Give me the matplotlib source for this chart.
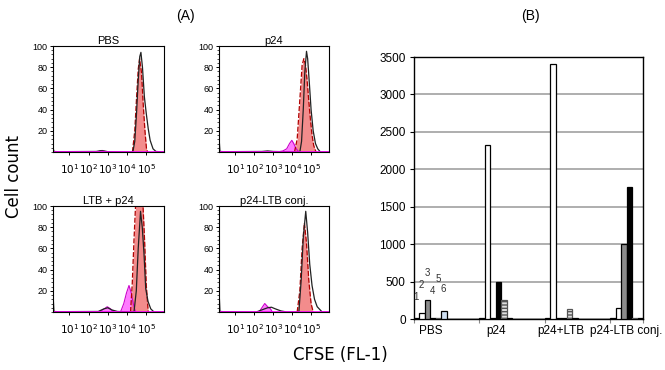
import numpy as np
import matplotlib
matplotlib.use('Agg')
import matplotlib.pyplot as plt
from matplotlib.ticker import FixedLocator, AutoMinorLocator, LogLocator, NullFormatter

plt.rcParams['font.family'] = ['Liberation Sans', 'DejaVu Sans']
plt.rcParams['hatch.linewidth'] = 1.0

# ---- panel A: CFSE histograms (x in log10 decades, y in % of max) ----
titles = ['PBS', 'p24', 'LTB + p24', 'p24-LTB conj.']

black_x = [
    [0.15, 0.2, 0.4, 2.4, 2.6, 2.8, 3.0, 4.3, 4.4, 4.49, 4.58, 4.66, 4.72, 4.8, 4.9, 5.0, 5.1, 5.2, 5.35, 5.5, 5.92],
    [0.15, 0.2, 0.4, 2.4, 2.7, 3.0, 4.39, 4.48, 4.57, 4.65, 4.74, 4.8, 4.9, 4.98, 5.09, 5.21, 5.33, 5.47, 5.92],
    [0.15, 0.2, 0.4, 2.5, 2.8, 3.0, 3.2, 3.5, 4.36, 4.48, 4.58, 4.7, 4.79, 4.88, 4.97, 5.09, 5.23, 5.4, 5.92],
    [0.15, 0.2, 0.4, 2.1, 2.4, 2.7, 2.9, 3.1, 3.4, 3.7, 4.34, 4.46, 4.57, 4.7, 4.8, 4.91, 5.03, 5.16, 5.3, 5.56, 5.92],
]
black_y = [
    [4, 0.5, 0.3, 0.5, 1.2, 1.0, 0.3, 0, 10, 36, 68, 90, 94, 80, 52, 36, 22, 11, 3, 0.5, 0],
    [14, 0.5, 0.3, 0.5, 1.0, 0.5, 0, 10, 40, 75, 95, 88, 62, 40, 20, 8, 3, 0, 0],
    [17, 0.5, 0.3, 0.5, 3, 4, 2, 0.5, 0, 20, 60, 95, 80, 55, 22, 10, 3, 0, 0],
    [21, 0.5, 0.3, 0, 2, 4, 4.5, 3, 1, 0, 0, 30, 70, 95, 75, 45, 25, 12, 5, 0, 0],
]
red_x = [
    [4.28, 4.4, 4.49, 4.58, 4.65, 4.75, 4.84, 4.93, 5.01, 5.07],
    [4.11, 4.25, 4.34, 4.43, 4.51, 4.6, 4.69, 4.77, 4.86, 4.95, 5.03, 5.12, 5.24],
    [4.18, 4.27, 4.36, 4.44, 4.53, 4.62, 4.7, 4.83, 4.91, 5.0, 5.1],
    [4.25, 4.39, 4.51, 4.63, 4.74, 4.86, 4.98, 5.09],
]
red_y = [
    [0, 20, 50, 78, 88, 75, 45, 20, 3, 0],
    [0, 12, 36, 60, 82, 88, 82, 68, 48, 30, 16, 6, 0],
    [0, 27, 68, 100, 125, 130, 125, 100, 68, 25, 0],
    [0, 20, 60, 84, 65, 30, 8, 0],
]
magenta_x = [
    [[2.5, 2.7, 2.9]],
    [[3.2, 3.5, 3.7, 3.85, 3.97, 4.07, 4.2, 4.35]],
    [[3.66, 3.83, 3.97, 4.1, 4.22, 4.32, 4.44], [2.53, 2.74, 2.97, 3.14, 3.31]],
    [[2.25, 2.4, 2.55, 2.7, 2.85, 2.95]],
]
magenta_y = [
    [[0, 1.5, 0]],
    [[0, 1, 3, 8, 11, 8, 3, 0]],
    [[0, 8, 18, 25, 18, 8, 0], [0, 2, 5, 3, 0]],
    [[0, 4, 8, 5, 3, 0]],
]

# ---- panel B: bar chart ----
groups = ['PBS', 'p24', 'p24+LTB', 'p24-LTB conj.']
bar_values = [
    [20, 75, 250, 15, 20, 110],
    [20, 2320, 20, 495, 260, 20],
    [20, 3400, 20, 15, 135, 20],
    [20, 147, 1000, 1760, 20, 20],
]
bar_numbers = ['1', '2', '3', '4', '5', '6']
number_heights = [294, 455, 615, 374, 535, 401]

W, H = 665, 370
fig = plt.figure(figsize=(W / 100, H / 100), dpi=100)

def box(x0, y0, x1, y1):
    return [x0 / W, 1 - y1 / H, (x1 - x0) / W, (y1 - y0) / H]

hist_boxes = [box(53, 46, 164, 152), box(219, 46, 329, 152),
              box(53, 206, 164, 312), box(219, 206, 329, 312)]

for i, rect in enumerate(hist_boxes):
    ax = fig.add_axes(rect)
    ax.set_xscale('log')
    bx = 10 ** np.array(black_x[i])
    rx = 10 ** np.array(red_x[i])
    for mx, my in zip(magenta_x[i], magenta_y[i]):
        mx = 10 ** np.array(mx)
        ax.fill_between(mx, my, color='#ff33ff', alpha=0.65, lw=0)
        ax.plot(mx, my, color='#cc00cc', lw=0.8)
    ax.fill_between(rx, red_y[i], color='#f07070', alpha=0.8, lw=0)
    ax.plot(rx, red_y[i], color='#b00000', lw=0.9, ls=(0, (4, 1.5)))
    ax.plot(bx, black_y[i], color='#222222', lw=0.9)
    ax.axhline(0.3, color='#ff00ff', lw=1.2)
    ax.set_xlim(10 ** 0.15, 10 ** 5.92)
    ax.set_ylim(0, 100)
    ax.set_title(titles[i], fontsize=8, pad=1.5)
    ax.set_yticks([20, 40, 60, 80, 100])
    ax.yaxis.set_minor_locator(AutoMinorLocator(5))
    ax.set_xticks([10, 100, 1000, 1e4, 1e5])
    ax.set_xticklabels(['$10^1$', '$10^2$', '$10^3$', '$10^4$', '$10^5$'])
    ax.xaxis.set_minor_locator(LogLocator(base=10, subs=np.arange(2, 10)))
    ax.xaxis.set_minor_formatter(NullFormatter())
    ax.tick_params(axis='both', labelsize=6.5, length=2.5, width=0.7, pad=1.5)
    ax.tick_params(axis='x', labelsize=7.5, pad=5)
    ax.tick_params(which='minor', length=1.5, width=0.5)
    for s in ax.spines.values():
        s.set_linewidth(0.8)

# bar chart
axb = fig.add_axes(box(414, 57, 643, 319))
period = len(bar_values[0]) * 2
bar_styles = [
    dict(color='white', edgecolor='black'),
    dict(color='white', edgecolor='black'),
    dict(color='#8c8c8c', edgecolor='black'),
    dict(color='black', edgecolor='black'),
    dict(color='#e0e0e0', edgecolor='#555555', hatch='-----'),
    dict(color='#cfe0f2', edgecolor='black'),
]
for g, vals in enumerate(bar_values):
    for k, v in enumerate(vals):
        axb.bar(g * period + k + 0.5, v, width=1.0, linewidth=0.9, zorder=3, **bar_styles[k])

for k, (lab, hgt) in enumerate(zip(bar_numbers, number_heights)):
    axb.text(k + 0.4, hgt, lab, fontsize=7, color='#333333', ha='center', va='center', zorder=4)

axb.set_xlim(0, period * (len(groups) - 1) + len(bar_values[0]))
axb.set_ylim(0, 3500)
axb.set_yticks(np.arange(0, 3501, 500))
axb.yaxis.grid(True, color='#a8a8a8', lw=1.3)
axb.set_axisbelow(True)
axb.set_xticks([g * period for g in range(len(groups))] + [period * (len(groups) - 1) + len(bar_values[0])])
axb.set_xticklabels([])
axb.xaxis.set_minor_locator(FixedLocator([g * period + len(bar_values[0]) / 2 for g in range(len(groups))]))
axb.set_xticklabels(groups, minor=True)
axb.tick_params(axis='x', which='minor', length=0, labelsize=8.5, pad=4)
axb.tick_params(axis='x', which='major', length=3, color='#888888')
axb.tick_params(axis='y', labelsize=8.5, length=3, pad=3)
for s in axb.spines.values():
    s.set_linewidth(1.0)

fig.text(185 / W, 1 - 16 / H, '(A)', fontsize=10, ha='center', va='center')
fig.text(530 / W, 1 - 16 / H, '(B)', fontsize=10, ha='center', va='center')
fig.text(14 / W, 1 - 177 / H, 'Cell count', fontsize=12, rotation=90, ha='center', va='center',
         family='DejaVu Sans')
fig.text(340 / W, 1 - 355 / H, 'CFSE (FL-1)', fontsize=12, ha='center', va='center',
         family='DejaVu Sans')

fig.savefig('out.png', dpi=100)
